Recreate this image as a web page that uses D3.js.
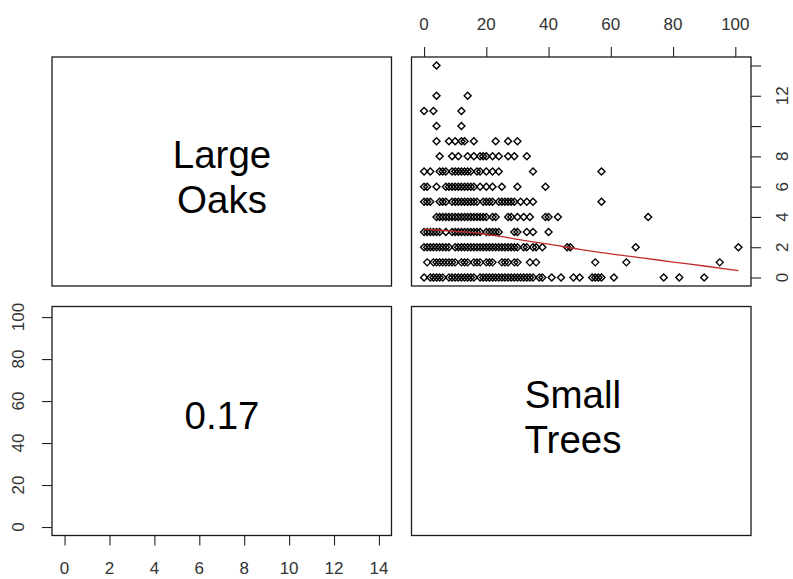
<!DOCTYPE html>
<html>
<head>
<meta charset="utf-8">
<script src="https://cdn.jsdelivr.net/npm/d3@7"></script>
<style>
  html, body { margin: 0; padding: 0; background: #fff; }
  svg { display: block; }
  text { font-family: "Liberation Sans", Arial, sans-serif; }
</style>
</head>
<body>
<svg id="chart" width="793" height="579"></svg>
<script>
// Variable names shown on the diagonal
const varNames = [["Large", "Oaks"], ["Small", "Trees"]];
const corrLabel = "0.17";

// Observed Small Trees counts grouped by Large Oaks count (0..14)
const smallTreesAtOaks0 = [0, 2, 3, 4, 5, 6, 8, 9, 10, 11, 12, 13, 14, 15, 16, 18, 19, 20, 21, 22, 23, 24, 25, 26, 27, 28, 29, 30, 31, 32, 33, 34, 35, 37, 38, 41, 44, 48, 50, 54, 55, 56, 57, 61, 77, 82, 90];
const smallTreesAtOaks1 = [1, 3, 4, 5, 6, 7, 8, 9, 10, 12, 13, 14, 16, 17, 18, 20, 21, 22, 25, 26, 27, 29, 30, 34, 36, 55, 65, 95];
const smallTreesAtOaks2 = [0, 1, 2, 3, 4, 5, 6, 7, 8, 10, 11, 12, 13, 14, 15, 16, 17, 18, 19, 20, 21, 22, 23, 24, 25, 26, 27, 28, 29, 30, 32, 33, 35, 36, 38, 46, 47, 68, 101];
const smallTreesAtOaks3 = [0, 1, 2, 3, 4, 5, 7, 9, 10, 11, 12, 13, 14, 15, 16, 17, 18, 20, 21, 22, 23, 24, 29, 30, 33, 35, 40];
const smallTreesAtOaks4 = [4, 5, 6, 7, 8, 9, 10, 11, 12, 13, 14, 15, 16, 17, 18, 19, 20, 22, 23, 27, 28, 30, 32, 34, 39, 40, 43, 72];
const smallTreesAtOaks5 = [0, 1, 2, 5, 6, 7, 9, 10, 11, 12, 13, 14, 15, 16, 17, 19, 20, 21, 22, 24, 25, 26, 27, 28, 29, 31, 33, 35, 57];
const smallTreesAtOaks6 = [0, 1, 4, 7, 8, 9, 10, 11, 12, 13, 14, 15, 16, 18, 20, 22, 25, 30, 39];
const smallTreesAtOaks7 = [0, 2, 5, 6, 7, 9, 10, 11, 12, 13, 14, 15, 17, 18, 20, 22, 24, 35, 57];
const smallTreesAtOaks8 = [5, 9, 11, 14, 16, 18, 19, 20, 22, 24, 27, 29, 33];
const smallTreesAtOaks9 = [4, 8, 10, 12, 13, 16, 23, 27, 30];
const smallTreesAtOaks10 = [4, 12];
const smallTreesAtOaks11 = [0, 3, 12];
const smallTreesAtOaks12 = [4, 14];
const smallTreesAtOaks13 = [];
const smallTreesAtOaks14 = [4];

// Smoothed trend of Large Oaks against Small Trees
const smoothX = [0, 5, 10, 15, 20, 25, 30, 40, 50, 60, 70, 80, 90, 101];
const smoothY = [3.2, 3.12, 3.05, 2.98, 2.85, 2.7, 2.52, 2.2, 1.86, 1.56, 1.3, 1.02, 0.76, 0.45];

// Axis ticks
const oaksTicks = [0, 2, 4, 6, 8, 10, 12, 14];
const oaksRightLabels = [0, 2, 4, 6, 8, 12];
const treesTicks = [0, 20, 40, 60, 80, 100];

const oaksRange = [0, 14];
const treesRange = [0, 101];

// ---- build point table ----
const oakGroups = [smallTreesAtOaks0, smallTreesAtOaks1, smallTreesAtOaks2, smallTreesAtOaks3,
  smallTreesAtOaks4, smallTreesAtOaks5, smallTreesAtOaks6, smallTreesAtOaks7, smallTreesAtOaks8,
  smallTreesAtOaks9, smallTreesAtOaks10, smallTreesAtOaks11, smallTreesAtOaks12, smallTreesAtOaks13,
  smallTreesAtOaks14];
const points = [];
oakGroups.forEach((xs, oaks) => xs.forEach(t => points.push({ trees: t, oaks })));
const smooth = smoothX.map((x, i) => ({ trees: x, oaks: smoothY[i] }));

// ---- layout ----
const svg = d3.select("#chart");
svg.append("rect").attr("width", 793).attr("height", 579).attr("fill", "#fff");

const cols = [[52, 391.5], [411.5, 751]];
const rows = [[57, 286], [306.5, 535.5]];

function padDomain(r) { const p = (r[1] - r[0]) * 0.04; return [r[0] - p, r[1] + p]; }

const xTrees = d3.scaleLinear().domain(padDomain(treesRange)).range(cols[1]);
const yOaks = d3.scaleLinear().domain(padDomain(oaksRange)).range([rows[0][1], rows[0][0]]);
const xOaks = d3.scaleLinear().domain(padDomain(oaksRange)).range(cols[0]);
const yTrees = d3.scaleLinear().domain(padDomain(treesRange)).range([rows[1][1], rows[1][0]]);

const tickColor = "#222";
const labelColor = "#333";
const fontTick = 17;
const tickLen = 10;

// panel frames
for (let r = 0; r < 2; r++) {
  for (let c = 0; c < 2; c++) {
    svg.append("rect")
      .attr("x", cols[c][0]).attr("y", rows[r][0])
      .attr("width", cols[c][1] - cols[c][0]).attr("height", rows[r][1] - rows[r][0])
      .attr("fill", "none").attr("stroke", "#1a1a1a").attr("stroke-width", 1.3);
  }
}

// axes: tick marks from d3 axis generators, labels placed explicitly
function styleTicks(g) {
  g.select(".domain").remove();
  g.selectAll(".tick line").attr("stroke", tickColor).attr("stroke-width", 1.1);
  g.selectAll(".tick text").remove();
}
function label(x, y, txt, rotate) {
  svg.append("text")
    .attr("transform", `translate(${x},${y})` + (rotate ? " rotate(-90)" : ""))
    .attr("text-anchor", "middle").attr("dominant-baseline", "central")
    .attr("font-size", fontTick).attr("fill", labelColor).text(txt);
}

// top axis: Small Trees
const gTop = svg.append("g").attr("transform", `translate(0,${rows[0][0]})`)
  .call(d3.axisTop(xTrees).tickValues(treesTicks).tickSize(tickLen));
styleTicks(gTop);
treesTicks.forEach(v => label(xTrees(v), 24, String(v), false));

// right axis: Large Oaks
const gRight = svg.append("g").attr("transform", `translate(${cols[1][1]},0)`)
  .call(d3.axisRight(yOaks).tickValues(oaksTicks).tickSize(tickLen));
styleTicks(gRight);
oaksRightLabels.forEach(v => label(782, yOaks(v), String(v), true));

// left axis: Small Trees
const gLeft = svg.append("g").attr("transform", `translate(${cols[0][0]},0)`)
  .call(d3.axisLeft(yTrees).tickValues(treesTicks).tickSize(tickLen));
styleTicks(gLeft);
treesTicks.forEach(v => label(18, yTrees(v), String(v), true));

// bottom axis: Large Oaks
const gBottom = svg.append("g").attr("transform", `translate(0,${rows[1][1]})`)
  .call(d3.axisBottom(xOaks).tickValues(oaksTicks).tickSize(tickLen));
styleTicks(gBottom);
oaksTicks.forEach(v => label(xOaks(v), 568, String(v), false));

// diagonal labels
const bigFont = 38.5;
function drawName(lines, cx, cy) {
  const lh = 45;
  const t = svg.append("text").attr("text-anchor", "middle").attr("font-size", bigFont).attr("fill", "#000");
  lines.forEach((s, i) => {
    t.append("tspan").attr("x", cx).attr("y", cy + (i - (lines.length - 1) / 2) * lh + bigFont * 0.36).text(s);
  });
}
drawName(varNames[0], 222, 177);
drawName(varNames[1], 573, 417);

// correlation text
svg.append("text").attr("x", 222).attr("y", 415 + bigFont * 0.36)
  .attr("text-anchor", "middle").attr("font-size", bigFont).attr("fill", "#000").text(corrLabel);

// scatter points (open diamonds)
const h = 3.5;
svg.append("g").selectAll("path").data(points).join("path")
  .attr("transform", d => `translate(${xTrees(d.trees)},${yOaks(d.oaks)})`)
  .attr("d", `M0,${-h}L${h},0L0,${h}L${-h},0Z`)
  .attr("fill", "none").attr("stroke", "#000").attr("stroke-width", 1.4);

// smooth line
svg.append("path").datum(smooth)
  .attr("d", d3.line().x(d => xTrees(d.trees)).y(d => yOaks(d.oaks)).curve(d3.curveMonotoneX))
  .attr("fill", "none").attr("stroke", "#c22b2b").attr("stroke-width", 1.3);
</script>
</body>
</html>
